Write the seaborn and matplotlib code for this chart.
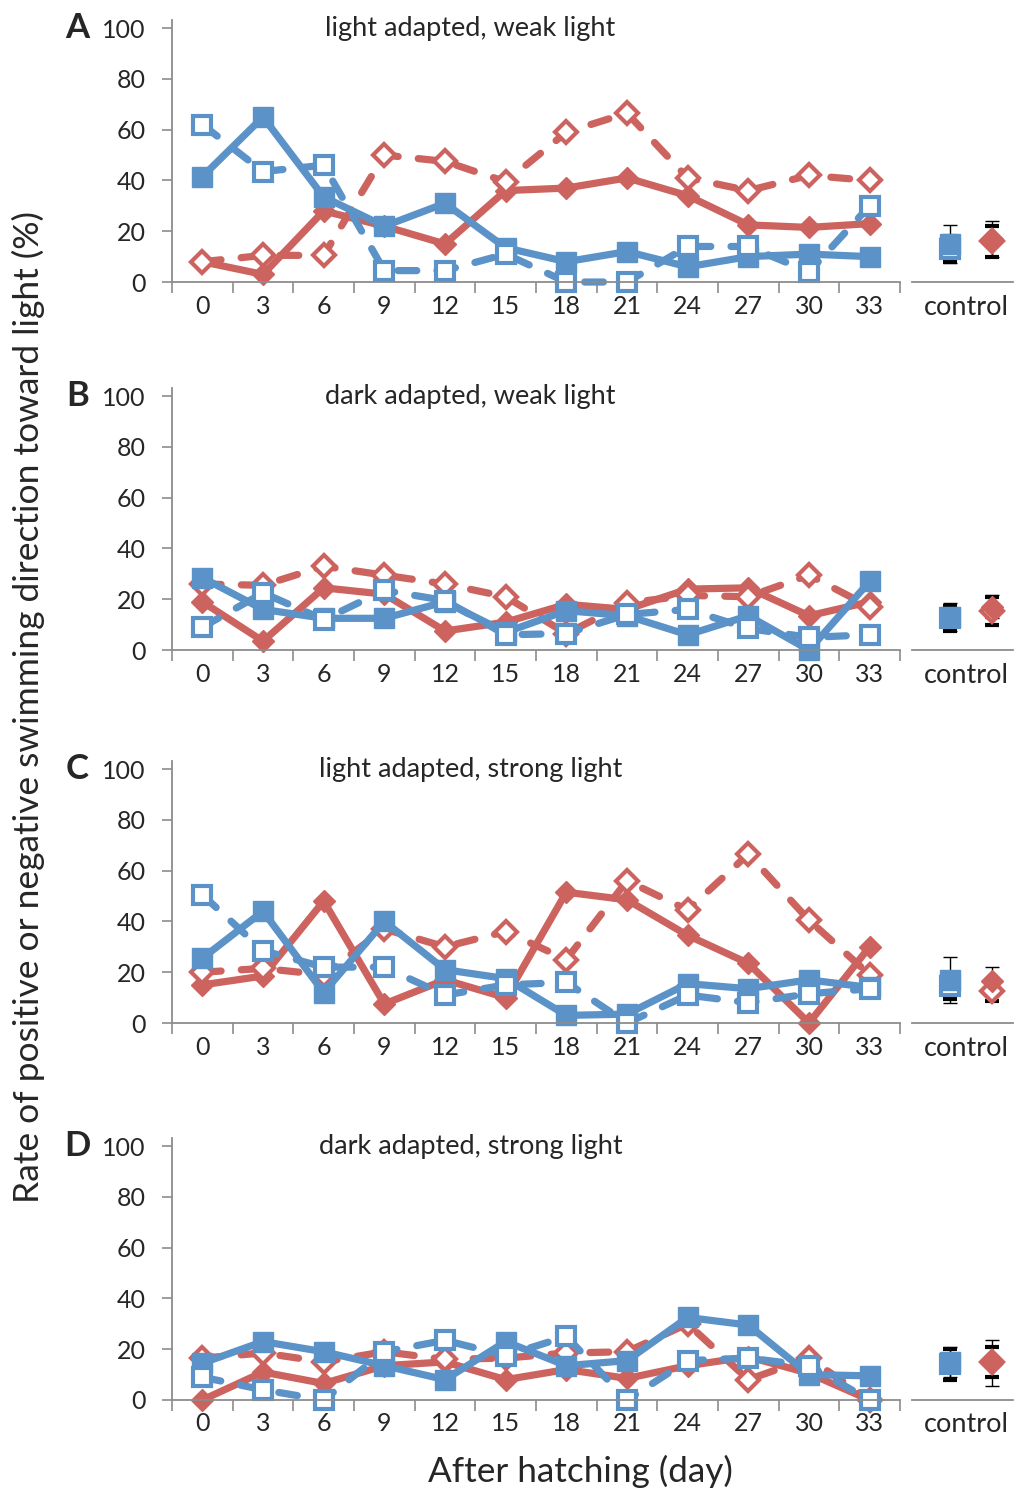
import numpy as np
import pandas as pd
import matplotlib
matplotlib.use("Agg")
import matplotlib.pyplot as plt
import seaborn as sns

# ---------------- data ----------------
days = [0, 3, 6, 9, 12, 15, 18, 21, 24, 27, 30, 33]
day_labels = [str(d) for d in days]
panel_letters = ["A", "B", "C", "D"]
panel_titles = ["light adapted, weak light", "dark adapted, weak light",
                "light adapted, strong light", "dark adapted, strong light"]

# Panel A
a_red_solid = [8, 3, 28, 22, 15, 36, 37, 41, 34, 22.5, 21.5, 23]
a_red_dash = [8, 10.5, 10.5, 50, 47.5, 39.5, 59, 66.5, 41, 36, 42, 40]
a_blue_solid = [41.5, 65, 33.5, 22, 31, 13.5, 8, 12, 6, 10, 11, 10]
a_blue_dash = [62, 43.5, 46, 4.5, 4.5, 11, 0, 0, 14, 14, 4, 30]

# Panel B
b_red_solid = [19, 3.5, 24.5, 22, 7.5, 11, 18, 16, 24, 24.5, 13.5, 19]
b_red_dash = [26, 25.5, 33, 29.5, 26, 21, 6.5, 18.5, 21.5, 21, 29.5, 17]
b_blue_solid = [28.5, 16, 12.5, 12.5, 19, 7, 15.5, 13.5, 6, 13.5, 0, 27]
b_blue_dash = [9, 22.5, 12, 23.5, 19.5, 6, 6.5, 14, 16, 8.5, 5, 6]

# Panel C
c_red_solid = [15, 18.5, 48, 7.5, 17, 10, 51.5, 48.5, 34.5, 23.5, 0, 30]
c_red_dash = [20, 21.5, 19, 37, 30, 36, 25, 56, 44.5, 66.5, 40.5, 19]
c_blue_solid = [25.5, 44, 12, 40, 21, 17.5, 3, 3.5, 15.5, 13.5, 17, 14]
c_blue_dash = [50.5, 28.5, 22, 22, 11, 15, 16, 0, 11, 8, 11.5, 13.5]

# Panel D
d_red_solid = [0, 11, 6.5, 13.5, 15, 8, 12, 8.5, 13.5, 17, 10.5, 0]
d_red_dash = [16.5, 18.5, 15, 19, 16, 16.5, 18.5, 19, 30, 8, 16.5, 0]
d_blue_solid = [14.5, 23, 19, 13.5, 8, 23, 13.5, 15.5, 32.5, 29.5, 10, 9.5]
d_blue_dash = [9, 4, 0, 19, 23.5, 17.5, 25, 0, 15.5, 16.5, 13.5, 0]

# Controls (mean, error) per panel A-D
ctrl_blue_solid = [15, 13, 17, 15]
ctrl_blue_solid_err = [7.5, 5.5, 9, 6]
ctrl_blue_dash = [13, 12.5, 14.5, 14]
ctrl_blue_dash_err = [5, 5, 5, 6]
ctrl_red_solid = [17, 17, 16.5, 14.5]
ctrl_red_solid_err = [7, 4.5, 5.5, 9]
ctrl_red_dash = [16, 15.5, 12.5, 15]
ctrl_red_dash_err = [6, 5.5, 4, 6]
ctrl_label = "control"

panels = [
    (a_red_solid, a_red_dash, a_blue_solid, a_blue_dash),
    (b_red_solid, b_red_dash, b_blue_solid, b_blue_dash),
    (c_red_solid, c_red_dash, c_blue_solid, c_blue_dash),
    (d_red_solid, d_red_dash, d_blue_solid, d_blue_dash),
]

# ---------------- style ----------------
sns.set_style("white")
plt.rcParams["font.family"] = ["Lato", "DejaVu Sans"]

BLUE = "#5B92C8"
RED = "#CD635E"
AXIS_GRAY = "#8C8C8C"
LW = 5.2

fig = plt.figure(figsize=(10.16, 14.93), dpi=100)

bottoms = [0.8111, 0.5646, 0.3148, 0.0623]
H = 0.1701
MAIN_L, MAIN_W = 0.1693, 0.7165
CTRL_L, CTRL_W = 0.8976, 0.0994

styles = [
    # color, marker, filled, dashed, ms
    (RED, "D", True, False, 11.5),
    (RED, "D", False, True, 11.5),
    (BLUE, "s", True, False, 14),
    (BLUE, "s", False, True, 13.5),
]

for i, series in enumerate(panels):
    ax = fig.add_axes([MAIN_L, bottoms[i], MAIN_W, H])
    for vals, (color, marker, filled, dashed, ms) in zip(series, styles):
        df = pd.DataFrame({"day": days, "rate": vals})
        kws = dict(color=color, lw=LW, marker=marker, ms=ms,
                   mec=color, mew=3 if not filled else 1,
                   markerfacecolor=color if filled else "white",
                   clip_on=False, legend=False, errorbar=None,
                   solid_joinstyle="round", dash_capstyle="round",
                   dash_joinstyle="round")
        if dashed:
            kws["linestyle"] = (0, (2.6, 2.8))
        sns.lineplot(data=df, x="day", y="rate", ax=ax, **kws)

    ax.set_xlim(-1.5, 34.5)
    ax.set_ylim(0, 100)
    ax.set_yticks([0, 20, 40, 60, 80, 100])
    ax.set_xticks(days)
    ax.set_xticklabels(day_labels)
    ax.set_xticks(np.arange(-1.5, 35, 3), minor=True)
    ax.tick_params(axis="x", which="major", length=0, pad=9, labelsize=18)
    ax.tick_params(axis="x", which="minor", length=8, width=1.2,
                   color=AXIS_GRAY, direction="out", bottom=True)
    ax.tick_params(axis="y", length=7, width=1.2, color=AXIS_GRAY,
                   direction="out", left=True, pad=12, labelsize=18)
    ax.set_xlabel("")
    ax.set_ylabel("")
    for s in ["top", "right"]:
        ax.spines[s].set_visible(False)
    for s in ["left", "bottom"]:
        ax.spines[s].set_color(AXIS_GRAY)
        ax.spines[s].set_linewidth(1.3)
    ax.spines["left"].set_bounds(0, 103)
    ax.set_facecolor("none")

    ax.text(0.41, 1.0, panel_titles[i], transform=ax.transAxes,
            ha="center", va="center", fontsize=19.5)
    fig.text(0.076, bottoms[i] + H, panel_letters[i], ha="center",
             va="center", fontsize=25, fontweight="bold")

    # control axes
    axc = fig.add_axes([CTRL_L, bottoms[i], CTRL_W, H])
    ebk = dict(ecolor="black", elinewidth=1.0, capsize=5, capthick=1.0,
               clip_on=False)
    axc.errorbar([0], [ctrl_blue_dash[i]], yerr=[ctrl_blue_dash_err[i]],
                 fmt="s", ms=13.5, mfc="white", mec=BLUE, mew=3, **ebk)
    axc.errorbar([0], [ctrl_blue_solid[i]], yerr=[ctrl_blue_solid_err[i]],
                 fmt="s", ms=14, mfc=BLUE, mec=BLUE, **ebk)
    axc.errorbar([1], [ctrl_red_dash[i]], yerr=[ctrl_red_dash_err[i]],
                 fmt="D", ms=11.5, mfc="white", mec=RED, mew=3, **ebk)
    axc.errorbar([1], [ctrl_red_solid[i]], yerr=[ctrl_red_solid_err[i]],
                 fmt="D", ms=11.5, mfc=RED, mec=RED, **ebk)
    axc.set_xlim(-0.9, 1.5)
    axc.set_ylim(0, 100)
    axc.set_xticks([0.4])
    axc.set_xticklabels([ctrl_label])
    axc.set_yticks([])
    axc.tick_params(axis="x", length=0, pad=9, labelsize=19.5)
    for s in ["top", "right", "left"]:
        axc.spines[s].set_visible(False)
    axc.spines["bottom"].set_color(AXIS_GRAY)
    axc.spines["bottom"].set_linewidth(1.3)
    axc.set_facecolor("none")

fig.text(0.028, 0.5265,
         "Rate of positive or negative swimming direction toward light (%)",
         rotation=90, ha="center", va="center", fontsize=25.5)
fig.text(0.571, 0.0147, "After hatching (day)", ha="center", va="center",
         fontsize=25.3)

fig.savefig("out.png", dpi=100)
